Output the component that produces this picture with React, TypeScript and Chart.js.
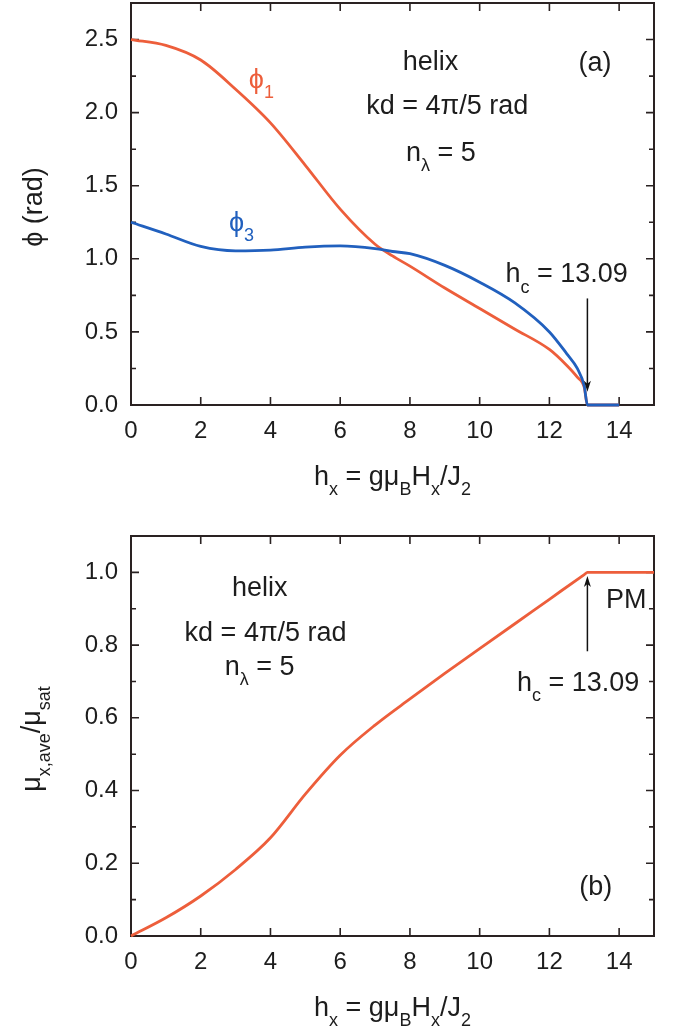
import React, { useEffect, useRef } from "react";
import { Chart, registerables } from "chart.js";
Chart.register(...registerables);

const FONT = '"Liberation Sans", Arial, Helvetica, sans-serif';
const TXT = "#1d1d1d";
const ORANGE = "#ED5E3B";
const BLUE = "#2160BE";
const FRAME = "#2a2222";

// ---------- panel (a) ----------
const hxA = [0, 1, 2, 3, 4, 5, 6, 7, 7.5, 8, 9, 10, 11, 12, 12.5, 12.8, 13, 13.09, 14];
const phi1 = [2.5, 2.46, 2.36, 2.16, 1.93, 1.64, 1.34, 1.1, 1.02, 0.95, 0.8, 0.66, 0.52, 0.38, 0.27, 0.19, 0.12, 0, 0];
const phi3 = [1.25, 1.17, 1.085, 1.055, 1.06, 1.08, 1.088, 1.07, 1.05, 1.035, 0.955, 0.84, 0.7, 0.5, 0.35, 0.25, 0.13, 0, 0];
const xTicks = [0, 2, 4, 6, 8, 10, 12, 14];
const yTicksA = [0, 0.5, 1, 1.5, 2, 2.5];

// ---------- panel (b) ----------
const hxB = [0, 1, 2, 3, 4, 5, 6, 7, 8, 9, 10, 11, 12, 13, 13.09, 15];
const muB = [0, 0.05, 0.11, 0.183, 0.27, 0.39, 0.497, 0.58, 0.652, 0.722, 0.79, 0.858, 0.926, 0.994, 1.0, 1.0];
const yTicksB = [0, 0.2, 0.4, 0.6, 0.8, 1.0];

type Seg = { t: string; sub?: boolean };

function drawRich(ctx: any, segs: Seg[], x: number, y: number, align: string, color: string, size: number, rot = 0) {
  const sub = Math.round(size * 0.68);
  ctx.save();
  ctx.translate(x, y);
  if (rot) ctx.rotate(rot);
  ctx.fillStyle = color;
  ctx.textAlign = "left";
  ctx.textBaseline = "alphabetic";
  const fm = `${size}px ${FONT}`;
  const fs = `${sub}px ${FONT}`;
  let total = 0;
  const ws = segs.map((s) => {
    ctx.font = s.sub ? fs : fm;
    const w = ctx.measureText(s.t).width;
    total += w;
    return w;
  });
  let cx = align === "center" ? -total / 2 : align === "right" ? -total : 0;
  const base = size * 0.36;
  segs.forEach((s, i) => {
    ctx.font = s.sub ? fs : fm;
    ctx.fillText(s.t, cx, base + (s.sub ? size * 0.38 : 0));
    cx += ws[i];
  });
  ctx.restore();
}

function drawArrow(ctx: any, x: number, y1: number, y2: number) {
  const dir = Math.sign(y2 - y1);
  ctx.save();
  ctx.strokeStyle = "#111";
  ctx.fillStyle = "#111";
  ctx.lineWidth = 1.5;
  ctx.beginPath();
  ctx.moveTo(x, y1);
  ctx.lineTo(x, y2 - dir * 6);
  ctx.stroke();
  ctx.beginPath();
  ctx.moveTo(x, y2);
  ctx.lineTo(x - 3.5, y2 - dir * 11);
  ctx.lineTo(x, y2 - dir * 8);
  ctx.lineTo(x + 3.5, y2 - dir * 11);
  ctx.closePath();
  ctx.fill();
  ctx.restore();
}

const framePlugin = {
  id: "frame",
  beforeDatasetsDraw(chart: any) {
    const { ctx, chartArea: a } = chart;
    const xs = chart.scales.x;
    const ys = chart.scales.y;
    ctx.save();
    ctx.strokeStyle = FRAME;
    ctx.lineWidth = 1.6;
    ctx.beginPath();
    const seg = (x1: number, y1: number, x2: number, y2: number) => {
      ctx.moveTo(x1, y1);
      ctx.lineTo(x2, y2);
    };
    xs.ticks.forEach((t: any) => {
      const p = xs.getPixelForValue(t.value);
      seg(p, a.bottom, p, a.bottom - 8);
      seg(p, a.top, p, a.top + 8);
    });
    const yv = ys.ticks.map((t: any) => t.value);
    yv.forEach((v: number) => {
      const p = ys.getPixelForValue(v);
      seg(a.left, p, a.left + 8, p);
      seg(a.right, p, a.right - 8, p);
    });
    for (let i = 0; i < yv.length - 1; i++) {
      const p = ys.getPixelForValue((yv[i] + yv[i + 1]) / 2);
      seg(a.left, p, a.left + 5, p);
      seg(a.right, p, a.right - 5, p);
    }
    ctx.stroke();
    ctx.lineWidth = 2;
    ctx.strokeRect(a.left, a.top, a.right - a.left, a.bottom - a.top);
    ctx.restore();
  },
};

const notesPlugin = {
  id: "notes",
  afterDraw(chart: any, _args: any, opts: any) {
    const { ctx, chartArea: a } = chart;
    const xs = chart.scales.x;
    const ys = chart.scales.y;
    (opts.items || []).forEach((n: any) => {
      drawRich(ctx, n.segs, xs.getPixelForValue(n.x), ys.getPixelForValue(n.y), n.align || "center", n.color || TXT, 27);
    });
    (opts.arrows || []).forEach((ar: any) => {
      drawArrow(ctx, xs.getPixelForValue(ar.x), ys.getPixelForValue(ar.from), ys.getPixelForValue(ar.to));
    });
    if (opts.xTitle) drawRich(ctx, opts.xTitle, (a.left + a.right) / 2, a.bottom + 70, "center", TXT, 27);
    if (opts.yTitle) drawRich(ctx, opts.yTitle, opts.yTitleX, (a.top + a.bottom) / 2 + 3, "center", TXT, 27, -Math.PI / 2);
  },
};

const xTitle: Seg[] = [
  { t: "h" }, { t: "x", sub: true }, { t: " = gμ" }, { t: "B", sub: true },
  { t: "H" }, { t: "x", sub: true }, { t: "/J" }, { t: "2", sub: true },
];

function makeOptions(yMax: number, yTicks: number[], padTop: number, notes: any) {
  return {
    responsive: false,
    animation: false as const,
    layout: { padding: { left: 0, right: 21, top: padTop, bottom: 0 } },
    plugins: { legend: { display: false }, tooltip: { enabled: false }, notes },
    scales: {
      x: {
        type: "linear" as const,
        min: 0,
        max: 15,
        afterBuildTicks: (s: any) => { s.ticks = xTicks.map((v) => ({ value: v })); },
        afterFit: (s: any) => { s.height = 100; s.paddingLeft = 0; s.paddingRight = 0; },
        grid: { display: false, drawTicks: false },
        border: { display: false },
        ticks: { font: { family: FONT, size: 24 }, color: TXT, padding: 12, maxRotation: 0, autoSkip: false, callback: (v: any) => String(v) },
      },
      y: {
        type: "linear" as const,
        min: 0,
        max: yMax,
        afterBuildTicks: (s: any) => { s.ticks = yTicks.map((v) => ({ value: v })); },
        afterFit: (s: any) => { s.width = 131; s.paddingTop = 0; s.paddingBottom = 0; },
        grid: { display: false, drawTicks: false },
        border: { display: false },
        ticks: { font: { family: FONT, size: 24 }, color: TXT, padding: 13, autoSkip: false, callback: (v: any) => Number(v).toFixed(1) },
      },
    },
  };
}

export default function App() {
  const refA = useRef<HTMLCanvasElement>(null);
  const refB = useRef<HTMLCanvasElement>(null);

  useEffect(() => {
    const line = (xs: number[], ys: number[], color: string) => ({
      data: xs.map((x, i) => ({ x, y: ys[i] })),
      borderColor: color,
      borderWidth: 2.8,
      pointRadius: 0,
      cubicInterpolationMode: "monotone" as const,
      clip: false as any,
    });

    const chartA = new Chart(refA.current as HTMLCanvasElement, {
      type: "line",
      data: { datasets: [line(hxA, phi3, BLUE), line(hxA, phi1, ORANGE)] },
      options: makeOptions(2.75, yTicksA, 3, {
        items: [
          { segs: [{ t: "helix" }], x: 8.59, y: 2.357 },
          { segs: [{ t: "(a)" }], x: 13.31, y: 2.35 },
          { segs: [{ t: "kd = 4π/5 rad" }], x: 9.07, y: 2.057 },
          { segs: [{ t: "n" }, { t: "λ", sub: true }, { t: " = 5" }], x: 8.89, y: 1.737 },
          { segs: [{ t: "ϕ" }, { t: "1", sub: true }], x: 3.38, y: 2.234, align: "left", color: ORANGE },
          { segs: [{ t: "ϕ" }, { t: "3", sub: true }], x: 2.81, y: 1.26, align: "left", color: BLUE },
          { segs: [{ t: "h" }, { t: "c", sub: true }, { t: " = 13.09" }], x: 10.74, y: 0.906, align: "left" },
        ],
        arrows: [{ x: 13.09, from: 0.729, to: 0.09 }],
        xTitle,
        yTitle: [{ t: "ϕ (rad)" }],
        yTitleX: 32,
      }) as any,
      plugins: [framePlugin, notesPlugin],
    });

    const chartB = new Chart(refB.current as HTMLCanvasElement, {
      type: "line",
      data: { datasets: [line(hxB, muB, ORANGE)] },
      options: makeOptions(1.1, yTicksB, 31, {
        items: [
          { segs: [{ t: "helix" }], x: 3.69, y: 0.962 },
          { segs: [{ t: "kd = 4π/5 rad" }], x: 3.86, y: 0.838 },
          { segs: [{ t: "n" }, { t: "λ", sub: true }, { t: " = 5" }], x: 3.69, y: 0.744 },
          { segs: [{ t: "PM" }], x: 13.62, y: 0.928, align: "left" },
          { segs: [{ t: "h" }, { t: "c", sub: true }, { t: " = 13.09" }], x: 11.07, y: 0.7, align: "left" },
          { segs: [{ t: "(b)" }], x: 13.33, y: 0.14 },
        ],
        arrows: [{ x: 13.09, from: 0.783, to: 0.99 }],
        xTitle,
        yTitle: [{ t: "μ" }, { t: "x,ave", sub: true }, { t: "/μ" }, { t: "sat", sub: true }],
        yTitleX: 30,
      }) as any,
      plugins: [framePlugin, notesPlugin],
    });

    return () => {
      chartA.destroy();
      chartB.destroy();
    };
  }, []);

  return (
    <div style={{ position: "absolute", left: 0, top: 0, width: 675, height: 1036, background: "#fff" }}>
      <div style={{ position: "absolute", left: 0, top: 0, width: 675, height: 505 }}>
        <canvas ref={refA} width={675} height={505} style={{ display: "block" }} />
      </div>
      <div style={{ position: "absolute", left: 0, top: 505, width: 675, height: 531 }}>
        <canvas ref={refB} width={675} height={531} style={{ display: "block" }} />
      </div>
    </div>
  );
}
